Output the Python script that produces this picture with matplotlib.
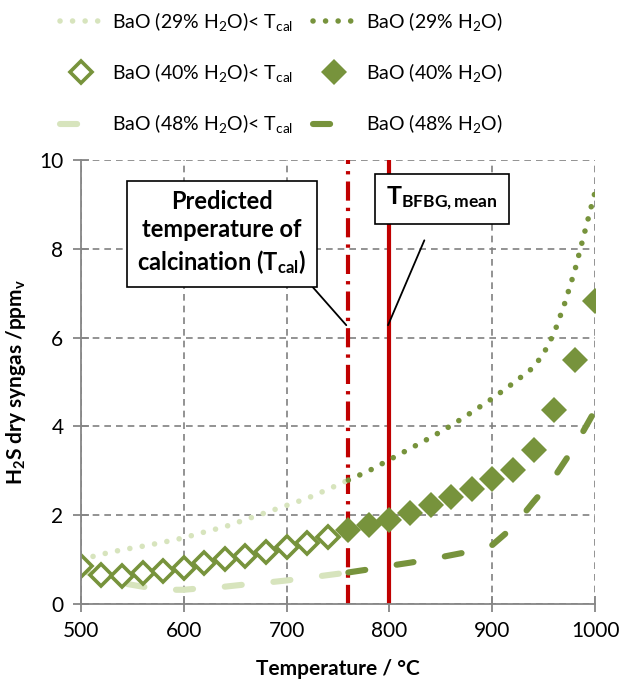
import matplotlib
matplotlib.use("Agg")
import matplotlib.pyplot as plt

plt.rcParams['font.family'] = ['Lato', 'DejaVu Sans']
plt.rcParams['mathtext.fontset'] = 'custom'
plt.rcParams['mathtext.rm'] = 'Lato'
plt.rcParams['mathtext.it'] = 'Lato:italic'
plt.rcParams['mathtext.bf'] = 'Lato:bold'

# temperatures (°C)
temp = [500, 520, 540, 560, 580, 600, 620, 640, 660, 680, 700, 720, 740,
        760, 780, 800, 820, 840, 860, 880, 900, 920, 940, 960, 980, 1000]
temp_29 = [500, 520, 540, 560, 580, 600, 620, 640, 660, 680, 700, 720, 740,
           760, 780, 800, 820, 840, 860, 880, 900, 920, 940, 950, 960, 970,
           980, 990, 1000]

# H2S in dry syngas (ppmv)
h2s_29 = [1.0, 1.12, 1.22, 1.3, 1.39, 1.49, 1.62, 1.74, 1.9, 2.06, 2.22, 2.38,
          2.58, 2.79, 3.0, 3.25, 3.5, 3.75, 4.02, 4.32, 4.63, 4.97, 5.33, 5.65,
          6.1, 6.75, 7.5, 8.4, 9.3]
h2s_40 = [0.86, 0.66, 0.64, 0.7, 0.75, 0.82, 0.93, 1.01, 1.09, 1.18, 1.28,
          1.38, 1.51, 1.67, 1.78, 1.89, 2.06, 2.23, 2.42, 2.6, 2.81, 3.02,
          3.47, 4.37, 5.5, 6.82]
h2s_48 = [0.77, 0.6, 0.47, 0.39, 0.32, 0.32, 0.36, 0.39, 0.44, 0.48, 0.53,
          0.59, 0.65, 0.71, 0.78, 0.86, 0.93, 1.01, 1.1, 1.19, 1.33, 1.73,
          2.3, 2.85, 3.55, 4.37]

T_cal = 760        # predicted calcination temperature
T_bfbg = 800       # mean BFBG temperature

dark = '#77933C'
light = '#D7E4BD'
red = '#C00000'

fig = plt.figure(figsize=(6.22, 6.84), dpi=100)
ax = fig.add_axes([0.130, 0.117, 0.827, 0.649])

i29 = temp_29.index(T_cal)
i = temp.index(T_cal)

dot = (0, (0.01, 2.25))
dash = (0, (2.8, 5.2))

l29a, = ax.plot(temp_29[:i29 + 1], h2s_29[:i29 + 1], color=light, lw=4,
                ls=dot, dash_capstyle='round', label=r'BaO (29% H$_2$O)< T$_{\mathrm{cal}}$')
l29b, = ax.plot(temp_29[i29:], h2s_29[i29:], color=dark, lw=4,
                ls=dot, dash_capstyle='round', label=r'BaO (29% H$_2$O)')
l48a, = ax.plot(temp[:i + 1], h2s_48[:i + 1], color=light, lw=4.4,
                ls=dash, dash_capstyle='round', label=r'BaO (48% H$_2$O)< T$_{\mathrm{cal}}$')
l48b, = ax.plot(temp[i:], h2s_48[i:], color=dark, lw=4.4,
                ls=dash, dash_capstyle='round', label=r'BaO (48% H$_2$O)')
l40a, = ax.plot(temp[:i], h2s_40[:i], ls='none', marker='D', ms=11,
                mfc='white', mec=dark, mew=2.6, label=r'BaO (40% H$_2$O)< T$_{\mathrm{cal}}$')
l40b, = ax.plot(temp[i:], h2s_40[i:], ls='none', marker='D', ms=13,
                mfc=dark, mec=dark, mew=0, label=r'BaO (40% H$_2$O)')

ax.axvline(T_cal, color=red, lw=3, ls=(0, (4.6, 1.7, 0.8, 1.7)), zorder=1)
ax.axvline(T_bfbg, color=red, lw=3, zorder=1)

ax.set_xlim(500, 1000)
ax.set_ylim(0, 10)
ax.set_xticks([500, 600, 700, 800, 900, 1000])
ax.set_yticks([0, 2, 4, 6, 8, 10])
ax.grid(True, color='#808080', ls=(0, (4, 3)), lw=1.2, zorder=0)
ax.set_axisbelow(True)
for s in ['top', 'right']:
    ax.spines[s].set_visible(False)
for s in ['left', 'bottom']:
    ax.spines[s].set_color('#868686')
    ax.spines[s].set_linewidth(1.3)
ax.tick_params(direction='inout', length=11, width=1.3, color='#868686',
               labelsize=15, pad=7)

ax.set_xlabel('Temperature / °C', fontsize=15, fontweight='bold', labelpad=13)
ax.set_ylabel(r'H$_\mathbf{2}$S dry syngas /ppm$_\mathbf{v}$', fontsize=15,
              fontweight='bold', labelpad=8)

# annotation boxes with leader lines
ax.annotate('Predicted\ntemperature of\ncalcination (T$_{\\mathbf{cal}}$)',
            xy=(758, 6.28), xytext=(637, 8.36), ha='center', va='center',
            fontsize=17, fontweight='bold', linespacing=1.3,
            bbox=dict(boxstyle='square,pad=0.45', fc='white', ec='black', lw=1.2),
            arrowprops=dict(arrowstyle='-', color='black', lw=1.3,
                            shrinkA=0, shrinkB=0, relpos=(0.98, 0.0)))
ax.annotate(r'$\mathbf{T_{BFBG,mean}}$',
            xy=(798.6, 6.28), xytext=(851, 9.12), ha='center', va='center',
            fontsize=18,
            bbox=dict(boxstyle='square,pad=0.45', fc='white', ec='black', lw=1.2),
            arrowprops=dict(arrowstyle='-', color='black', lw=1.3,
                            shrinkA=12, shrinkB=0))

handles = [l29a, l40a, l48a, l29b, l40b, l48b]
fig.legend(handles=handles, labels=[h.get_label() for h in handles],
           loc='upper center', bbox_to_anchor=(0.452, 1.011), ncol=2,
           frameon=False, fontsize=14, labelspacing=1.45, columnspacing=1.0,
           handlelength=2.2, handletextpad=0.5)

fig.savefig('out.png', dpi=100)
